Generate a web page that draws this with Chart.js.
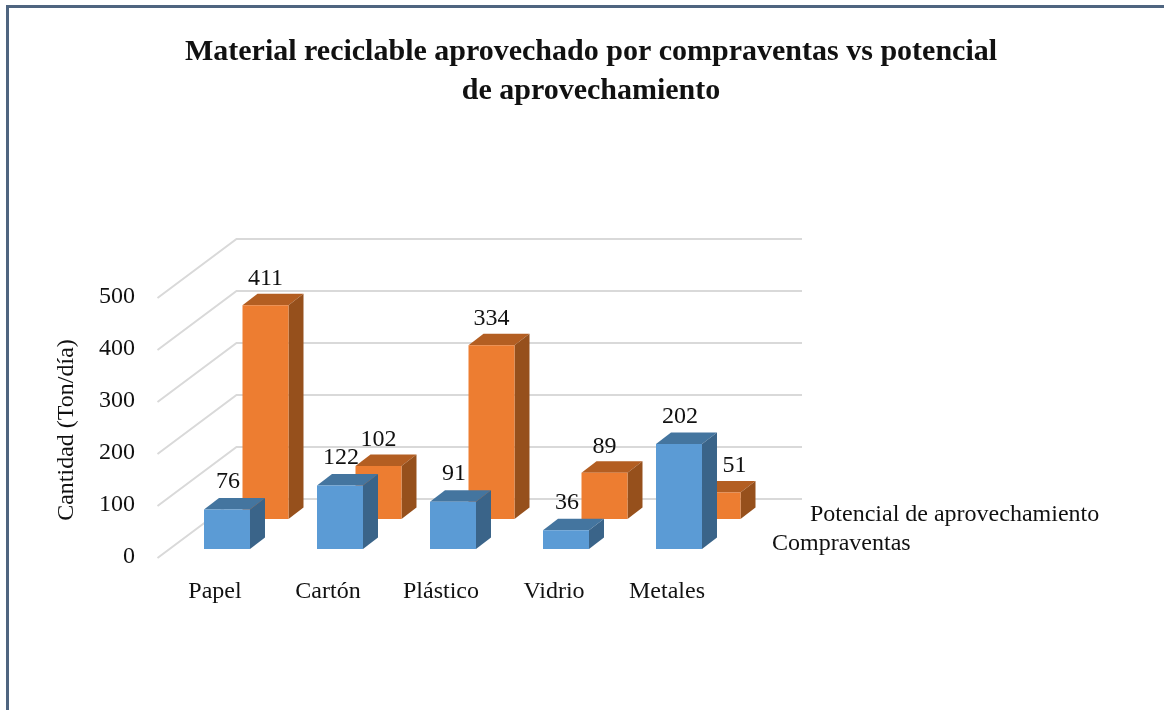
<!DOCTYPE html>
<html>
<head>
<meta charset="utf-8">
<style>
body { margin: 0; background: #fff; overflow: hidden; }
#frame { position: absolute; left: 6px; top: 5px; right: -4px; bottom: -4px; border-left: 3px solid #4f6580; border-top: 3px solid #4f6580; }
canvas { position: absolute; left: 0; top: 0; }
</style>
</head>
<body>
<div id="frame"></div>
<canvas id="chart" width="1164" height="710"></canvas>
<script src="https://cdn.jsdelivr.net/npm/chart.js@4"></script>
<script>
var categories = ['Papel', 'Cartón', 'Plástico', 'Vidrio', 'Metales'];
var compraventas = [76, 122, 91, 36, 202];
var potencial = [411, 102, 334, 89, 51];
var yTicks = [0, 100, 200, 300, 400, 500];

var titleLines = ['Material reciclable aprovechado por compraventas vs potencial', 'de aprovechamiento'];
var yTitle = 'Cantidad (Ton/día)';
var serif = '"Liberation Serif", "Times New Roman", serif';
var textFont = { family: serif, size: 24 };

// how the fake 3D is laid out, in pixels
var backDx = 38.5, backDy = -30;   // second row of bars sits behind the first
var sideDx = 15, sideDy = -11.5;   // depth of one bar
var wallDx = 66, wallDy = -50;     // back wall of the grid

function drawBox3d(ctx, bar, topColor, sideColor) {
	var half = bar.width / 2, l = bar.x - half, r = bar.x + half;
	ctx.fillStyle = topColor;
	ctx.beginPath();
	ctx.moveTo(l, bar.y);
	ctx.lineTo(l + sideDx, bar.y + sideDy);
	ctx.lineTo(r + sideDx, bar.y + sideDy);
	ctx.lineTo(r, bar.y);
	ctx.closePath();
	ctx.fill();
	ctx.fillStyle = sideColor;
	ctx.beginPath();
	ctx.moveTo(r, bar.y);
	ctx.lineTo(r + sideDx, bar.y + sideDy);
	ctx.lineTo(r + sideDx, bar.base + sideDy);
	ctx.lineTo(r, bar.base);
	ctx.closePath();
	ctx.fill();
}

var fake3d = {
	id: 'fake3d',
	beforeDatasetsDraw: function(chart) {
		var ctx = chart.ctx, y = chart.scales.y, left = chart.chartArea.left;
		ctx.save();
		ctx.strokeStyle = '#d9d9d9';
		ctx.lineWidth = 2;
		yTicks.forEach(function(v) {
			var py = y.getPixelForValue(v);
			ctx.beginPath();
			ctx.moveTo(left - 13, py + 9);
			ctx.lineTo(left + wallDx, py + wallDy);
			ctx.lineTo(802, py + wallDy);
			ctx.stroke();
		});
		ctx.restore();
	},
	beforeDatasetDraw: function(chart, args) {
		var ctx = chart.ctx, ds = chart.data.datasets[args.index];
		ctx.save();
		if (args.index == 1) ctx.translate(backDx, backDy);
		args.meta.data.forEach(function(bar) {
			drawBox3d(ctx, bar, ds.topColor, ds.sideColor);
		});
	},
	afterDatasetDraw: function(chart) {
		chart.ctx.restore();
	},
	afterDatasetsDraw: function(chart) {
		var ctx = chart.ctx;
		ctx.save();
		ctx.fillStyle = '#111';
		ctx.font = '24px ' + serif;
		ctx.textAlign = 'center';
		ctx.textBaseline = 'middle';
		chart.getDatasetMeta(0).data.forEach(function(bar, i) {
			ctx.fillText(compraventas[i], bar.x + 1, bar.y - 27.5);
		});
		chart.getDatasetMeta(1).data.forEach(function(bar, i) {
			// last one is moved right, the blue bar would cover it
			var shift = i == 4 ? 17 : 0;
			ctx.fillText(potencial[i], bar.x + backDx + shift, bar.y + backDy - 26.5);
		});
		ctx.textAlign = 'left';
		ctx.fillText(chart.data.datasets[1].label, 810, 515);
		ctx.fillText(chart.data.datasets[0].label, 772, 544);
		ctx.translate(67, 430);
		ctx.rotate(-Math.PI / 2);
		ctx.textAlign = 'center';
		ctx.fillText(yTitle, 0, 0);
		ctx.restore();
	}
};

new Chart(document.getElementById('chart'), {
	type: 'bar',
	data: {
		labels: categories,
		datasets: [{
			label: 'Compraventas',
			data: compraventas,
			backgroundColor: '#5b9bd5',
			topColor: '#44759f',
			sideColor: '#3a6489',
			grouped: false,
			clip: false
		}, {
			label: 'Potencial de aprovechamiento',
			data: potencial,
			backgroundColor: '#ed7d31',
			topColor: '#b35e22',
			sideColor: '#96501c',
			grouped: false,
			clip: false
		}]
	},
	options: {
		responsive: false,
		animation: false,
		categoryPercentage: 1,
		barPercentage: 0.407,
		layout: { autoPadding: false, padding: { left: 18 } },
		plugins: {
			legend: { display: false },
			tooltip: { enabled: false },
			title: {
				display: true,
				text: titleLines,
				color: '#111',
				font: { family: serif, size: 30, weight: 'bold', lineHeight: 1.3 },
				padding: { top: 33, bottom: 178 }
			}
		},
		scales: {
			x: {
				grid: { display: false, drawTicks: false },
				border: { display: false },
				ticks: { font: textFont, color: '#111', padding: 28, labelOffset: -12, maxRotation: 0 },
				afterFit: function(s) { s.height = 161; }
			},
			y: {
				min: 0,
				max: 500,
				afterBuildTicks: function(s) { s.ticks = yTicks.map(function(v) { return { value: v }; }); },
				grid: { display: false, drawTicks: false },
				border: { display: false },
				ticks: { font: textFont, color: '#111', padding: 35.5, labelOffset: 8 },
				afterFit: function(s) { s.width = 152.5; }
			},
			rightGap: {
				axis: 'y',
				position: 'right',
				grid: { display: false, drawTicks: false },
				border: { display: false },
				ticks: { display: false },
				afterFit: function(s) { s.width = 428.5; }
			}
		}
	},
	plugins: [fake3d]
});
</script>
</body>
</html>
